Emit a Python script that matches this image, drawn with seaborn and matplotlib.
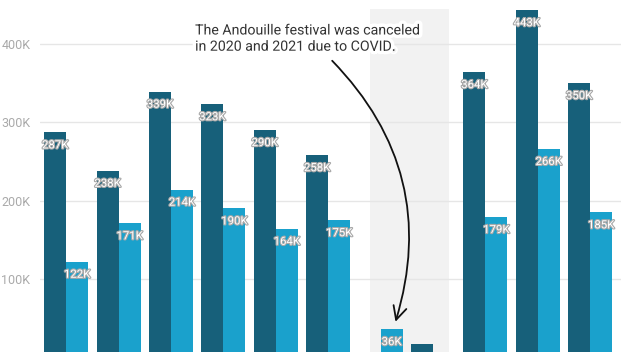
import numpy as np
import pandas as pd
import seaborn as sns
import matplotlib.pyplot as plt
import matplotlib.patheffects as pe

# Data
years = [str(y) for y in range(2014, 2025)]
dark_vals = [287, 238, 339, 323, 290, 258, np.nan, 17, 364, 443, 350]
light_vals = [122, 171, 214, 190, 164, 175, 36, np.nan, 179, 266, 185]
series_names = ["Attendance", "Local visitors"]
yticks = [100000, 200000, 300000, 400000]
ytick_labels = ["100K", "200K", "300K", "400K"]
note = "The Andouille festival was canceled\nin 2020 and 2021 due to COVID."

df = pd.DataFrame({
    "year": years * 2,
    "series": [series_names[0]] * len(years) + [series_names[1]] * len(years),
    "value": [v * 1000 for v in dark_vals] + [v * 1000 for v in light_vals],
})

sns.set_theme(style="white")
plt.rcParams["font.family"] = ["Roboto", "DejaVu Sans"]

fig = plt.figure(figsize=(6.21, 3.52), dpi=100)
ax = fig.add_axes([40 / 621, 0, 581 / 621, 1])

# shaded COVID area
ax.fill_between([5.8, 7.3], 0, 444000, color="#f2f2f2", zorder=0, linewidth=0)

for t in yticks:
    ax.axhline(t, color="#e6e6e6", linewidth=1, zorder=0.5)

sns.barplot(
    data=df, x="year", y="value", hue="series", order=years,
    palette=["#17607a", "#1aa1cc"], width=0.84, saturation=1,
    linewidth=0, legend=False, ax=ax, zorder=2,
)

# value labels (skip ones that would sit below the visible area)
for cont in ax.containers:
    for bar in cont:
        h = bar.get_height()
        if np.isnan(h) or h < 25000:
            continue
        ax.annotate(
            f"{h / 1000:.0f}K",
            xy=(bar.get_x() + bar.get_width() / 2, h),
            xytext=(0, -13), textcoords="offset pixels",
            ha="center", va="center", fontsize=8.2, color="white", zorder=5,
            path_effects=[pe.withStroke(linewidth=1.6, foreground="#a8a8a8")],
        )

ax.set_xlim(-0.5, 10.59)
ax.set_ylim(6800, 456000)
ax.set_yticks(yticks)
ax.set_yticklabels(ytick_labels)
ax.tick_params(axis="y", length=0, pad=7, labelsize=9, labelcolor="#aaaaaa")
ax.set_xticks([])
ax.set_xlabel("")
ax.set_ylabel("")
for s in ax.spines.values():
    s.set_visible(False)

# annotation
ax.text(2.46, 426000, note, ha="left", va="top", fontsize=10.2, color="#333333",
        linespacing=1.2, zorder=6,
        path_effects=[pe.withStroke(linewidth=5, foreground="white")])
ax.annotate(
    "", xy=(6.27, 42000), xytext=(5.04, 381000),
    arrowprops=dict(arrowstyle="->,head_length=0.8,head_width=0.4", color="#111111",
                    linewidth=1.3, connectionstyle="arc3,rad=-0.3"),
    zorder=6,
)

fig.savefig("out.png", dpi=100)
